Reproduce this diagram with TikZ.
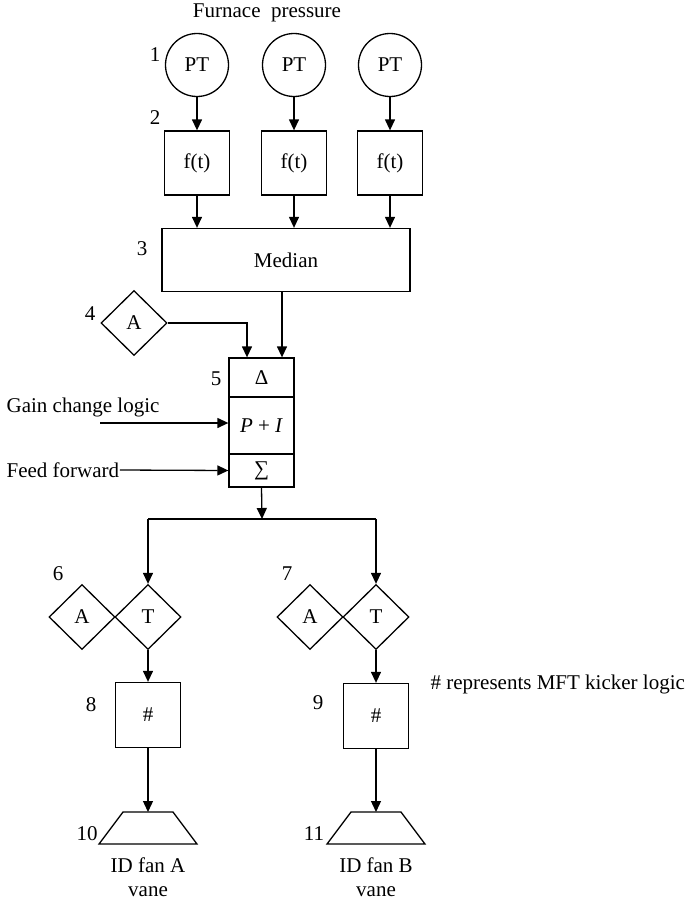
\documentclass[tikz,border=0pt]{standalone}
\usepackage{fontspec}
\setmainfont{Liberation Serif}
\usetikzlibrary{arrows.meta,shapes.geometric}
\begin{document}
\begin{tikzpicture}[x=1pt,y=-1pt,
  font=\fontsize{21}{24}\selectfont,
  line width=1.3pt,
  every node/.style={inner sep=0pt},
  arr/.style={-{Triangle[length=11pt,width=10pt]}},
  sensor/.style={circle,draw,minimum size=63pt},
  fbox/.style={rectangle,draw,minimum width=65pt,minimum height=64pt},
  medbox/.style={rectangle,draw,minimum width=248pt,minimum height=63pt},
  ctrl/.style={rectangle,draw,minimum width=65pt},
  gate/.style={diamond,draw,aspect=1,minimum width=66pt,minimum height=65pt},
  tag/.style={anchor=center}]
\useasboundingbox (0,0) rectangle (689,902);

% measurement header
\node (title) at (267,13) {Furnace\ \ pressure};

% transmitters and filters
\node[sensor] (pt1) at (197,65) {PT};
\node[sensor] (pt2) at (294,65) {PT};
\node[sensor] (pt3) at (390,65) {PT};
\node[fbox] (f1) at (197,163) {f(t)};
\node[fbox] (f2) at (294,163) {f(t)};
\node[fbox] (f3) at (390,163) {f(t)};
\node[tag] (n1) at (155,55) {1};
\node[tag] (n2) at (155,118) {2};

% median selector
\node[medbox] (med) at (286,260) {Median};
\node[tag] (n3) at (142,249) {3};

% setpoint
\node[gate] (a4) at (134,323) {A};
\node[tag] (n4) at (90,314) {4};

% PI controller block
\node[ctrl,minimum height=39pt] (delta) at (261.5,377.5) {Δ};
\node[ctrl,minimum height=57pt] (pi) at (261.5,425.5) {\textit{P} + \textit{I}};
\node[ctrl,minimum height=33pt] (sig) at (261.5,470.5) {∑};
\node[tag] (n5) at (216,379) {5};

\node[anchor=west] (gain) at (6,407) {Gain change logic};
\coordinate (gainin) at (100,423);
\node[anchor=west] (ff) at (6,470) {Feed forward};

% output split
\coordinate (split) at (262,519);

% fan A train
\node[gate] (ta) at (148,617) {T};
\node[gate] (aa) at (82,617) {A};
\node[tag] (n6) at (58,574) {6};
\node[fbox,minimum height=65pt] (ka) at (148,715) {\#};
\node[tag] (n8) at (91,705) {8};
\coordinate (va) at (148,812);
\node[tag] (n10) at (87,834) {10};
\node (la) at (148,865) {ID fan A};
\node (lva) at (148,892) {vane};

% fan B train
\node[gate] (tb) at (376,617) {T};
\node[gate] (ab) at (310,617) {A};
\node[tag] (n7) at (287,574) {7};
\node[fbox,minimum height=65pt] (kb) at (376,716) {\#};
\node[tag] (n9) at (318,703) {9};
\coordinate (vb) at (376,812);
\node[tag] (n11) at (314,834) {11};
\node (lb) at (376,865) {ID fan B};
\node (lvb) at (376,892) {vane};

\node[anchor=west] (note) at (430,684) {\# represents MFT kicker logic};

% vane actuators (trapezoids hanging from their top-centre points)
\foreach \v in {va,vb}{
  \draw[line join=miter] ([xshift=-25pt]\v) -- ([xshift=25pt]\v)
    -- ([xshift=49pt,yshift=-32pt]\v) -- ([xshift=-49pt,yshift=-32pt]\v) -- cycle;
}

% connectors
\foreach \i in {1,2,3}{
  \draw[arr] (pt\i.south) -- (f\i.north);
  \draw[arr] (f\i.south) -- (f\i.south |- med.north);
}
\draw[arr] (a4.east) -| ([xshift=-14.5pt]delta.north);
\draw[arr] ([xshift=20.5pt]delta.north |- med.south) -- ([xshift=20.5pt]delta.north);
\draw[arr] (gainin) -- (gainin -| pi.west);
\draw[arr] (ff.east) -- (sig.west);
\draw[arr] (sig.south) -- (split);
\draw (split -| ta.north) -- (split -| tb.north);
\draw[arr] (split -| ta.north) -- (ta.north);
\draw[arr] (split -| tb.north) -- (tb.north);
\draw[arr] (ta.south) -- (ka.north);
\draw[arr] (tb.south) -- (kb.north);
\draw[arr] (ka.south) -- (va);
\draw[arr] (kb.south) -- (vb);
\end{tikzpicture}
\end{document}
